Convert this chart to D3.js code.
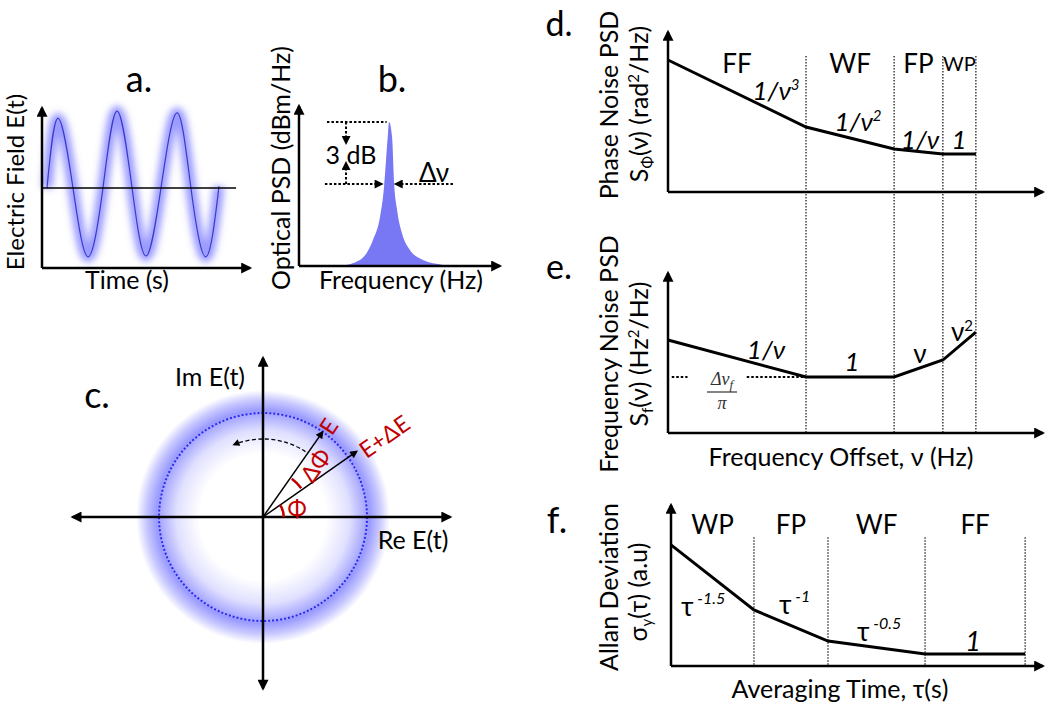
<!DOCTYPE html>
<html>
<head>
<meta charset="utf-8">
<script src="https://cdn.jsdelivr.net/npm/d3@7"></script>
<style>
  html, body { margin: 0; padding: 0; background: #fff; }
  svg { display: block; font-family: Lato, "Open Sans", sans-serif; }
</style>
</head>
<body>
<svg id="fig" width="1045" height="709"></svg>
<script>
// ---------------- data ----------------
// (a) sampled optical field: zero crossings and extrema
const waveTime  = [2.4, 7.7, 14.9, 22.1, 29.3, 36.1, 43.3, 50.0, 57.2, 64.9, 71.6, 78.8, 85.1];
const waveField = [0, 87, 0, -86, 0, 96, 0, -85, 0, 94, 0, -86, 2];

// (b) optical line shape
const specFreq  = [20.4, 30.3, 36.8, 40.3, 42.3, 43.3, 44.3, 44.8, 46.3, 47.3, 48.8, 51.2, 55.2, 61.7, 71.6, 73.6];
const specPower = [0, 3.75, 16.25, 30.6, 49.4, 66.25, 83.1, 90, 80.6, 51.9, 35, 20.6, 10, 3.75, 0.6, 0];
const specPeak = 90;
const specHalf = 51.25;

// (c) phasor: magnitudes and angles (deg)
const phasorNames  = ["E", "E+ΔE"];
const phasorMag    = [1.0, 1.1];
const phasorAngle  = [55, 35];
const circleRadius = 1.0;

// (d)/(e) noise PSD asymptotes, shared frequency breakpoints
const noiseBreaks   = [0, 36.8, 60.3, 73.3, 82.1];
const phaseRegions  = ["FF", "WF", "FP", "WP"];
const phaseLevels   = [82.5, 40.6, 26.9, 23.75, 23.75];
const phaseSlopes   = [["1/ν", "3"], ["1/ν", "2"], ["1/ν", ""], ["1", ""]];
const freqLevels    = [58.1, 35, 35, 45.6, 63.1];
const freqSlopes    = [["1/ν", ""], ["1", ""], ["ν", ""], ["ν", "2"]];
const freqFloor     = 35;

// (f) Allan deviation asymptotes
const allanBreaks   = [0, 22.3, 42.2, 68.3, 95.2];
const allanRegions  = ["WP", "FP", "WF", "FF"];
const allanLevels   = [75.2, 34.8, 15.5, 7.5, 7.5];
const allanSlopes   = [["τ", "-1.5"], ["τ", "-1"], ["τ", "-0.5"], ["1", ""]];

// ---------------- setup ----------------
const svg = d3.select("#fig");
const defs = svg.append("defs");
const RED = "#c00000";
const LABEL = 25;

function marker(id, len, wid, color) {
  defs.append("marker").attr("id", id)
    .attr("viewBox", "0 0 10 10").attr("refX", 8).attr("refY", 5)
    .attr("markerUnits", "userSpaceOnUse")
    .attr("markerWidth", len).attr("markerHeight", wid)
    .attr("orient", "auto-start-reverse")
    .append("path").attr("d", "M0,0L10,5L0,10z").attr("fill", color);
}
marker("axArrow", 13, 11, "#000");
marker("vecArrow", 11, 8, "#000");
marker("smArrow", 10, 9, "#000");
marker("dashArrow", 9, 7, "#000");

const glow = defs.append("filter").attr("id", "glow")
  .attr("x", "-20%").attr("y", "-20%").attr("width", "140%").attr("height", "140%");
glow.append("feGaussianBlur").attr("stdDeviation", 3.6);

function line(g, x1, y1, x2, y2, opts = {}) {
  const l = g.append("line").attr("x1", x1).attr("y1", y1).attr("x2", x2).attr("y2", y2)
    .attr("stroke", opts.color || "#000").attr("stroke-width", opts.width || 2.5);
  if (opts.dash) l.attr("stroke-dasharray", opts.dash);
  if (opts.end) l.attr("marker-end", `url(#${opts.end})`);
  if (opts.start) l.attr("marker-start", `url(#${opts.start})`);
  return l;
}

// text with optional sub/superscript parts
function text(g, x, y, base, opts = {}) {
  const t = g.append("text").attr("x", x).attr("y", y)
    .attr("text-anchor", opts.anchor || "middle")
    .attr("font-size", opts.size || LABEL)
    .attr("fill", opts.color || "#000");
  if (opts.italic) t.attr("font-style", "italic");
  if (opts.family) t.attr("font-family", opts.family);
  if (opts.central) t.attr("dominant-baseline", "central");
  if (opts.rotate) t.attr("transform", `rotate(${opts.rotate},${x},${y})`);
  const parts = Array.isArray(base) ? base : [base];
  parts.forEach(p => {
    if (typeof p === "string") { t.append("tspan").text(p); return; }
    const s = t.append("tspan").text(p.t);
    if (p.sup) s.attr("dy", p.sup).attr("font-size", p.size);
    if (p.italic) s.attr("font-style", "italic");
    if (p.reset) s.attr("dy", p.reset);
  });
  return t;
}

// ---------------- (a) electric field ----------------
{
  const g = svg.append("g");
  const x = d3.scaleLinear().domain([0, 100]).range([42, 250]);
  const y = d3.scaleLinear().domain([-100, 100]).range([268, 108]);
  const pts = waveTime.map((t, i) => [x(t), y(waveField[i])]);
  const path = d3.line().curve(d3.curveNatural)(pts);
  g.append("path").attr("d", path).attr("fill", "none")
    .attr("stroke", "#7070ff").attr("stroke-width", 11).attr("stroke-opacity", 0.7)
    .attr("filter", "url(#glow)");
  g.append("path").attr("d", path).attr("fill", "none")
    .attr("stroke", "#3a3acc").attr("stroke-width", 1.2);
  line(g, x(0), y(0), x(93.3), y(0), { width: 1.6 });
  line(g, x(0), y(-100), x(0), y(100), { end: "axArrow" });
  line(g, x(0), y(-100), x(100), y(-100), { end: "axArrow" });
  text(g, 139, 92, "a.", { size: 36 });
  text(g, 127, 289, "Time (s)");
  text(g, 24, 182, "Electric Field E(t)", { size: 24, rotate: -90 });
}

// ---------------- (b) optical PSD ----------------
{
  const g = svg.append("g");
  const x = d3.scaleLinear().domain([0, 100]).range([299, 500]);
  const y = d3.scaleLinear().domain([0, 100]).range([266, 106]);
  const area = d3.area().curve(d3.curveMonotoneX)
    .x((d, i) => x(specFreq[i])).y0(y(0)).y1(d => y(d));
  g.append("path").attr("d", area(specPower)).attr("fill", "#7878f4");
  line(g, x(0), y(0), x(0), y(100), { end: "axArrow" });
  line(g, x(0), y(0), x(100), y(0), { end: "axArrow" });

  const dot = "2.5,2";
  line(g, x(13.9), y(specPeak), x(43.6), y(specPeak), { width: 2, dash: dot });
  line(g, x(12.9), y(specHalf), x(41.2), y(specHalf), { width: 2, dash: dot, end: "smArrow" });
  line(g, x(76.6), y(specHalf), x(48.0), y(specHalf), { width: 2, dash: dot, end: "smArrow" });
  line(g, x(23.4), y(specPeak), x(23.4), y(76.8), { width: 2, dash: dot, end: "smArrow" });
  line(g, x(23.4), y(specHalf), x(23.4), y(64.5), { width: 2, dash: dot, end: "smArrow" });

  text(g, 351, 164, "3 dB");
  text(g, 434, 182, "Δν", { size: 26 });
  text(g, 392, 92, "b.", { size: 36 });
  text(g, 401, 289, "Frequency (Hz)");
  text(g, 290, 168, "Optical PSD (dBm/Hz)", { rotate: -90 });
}

// ---------------- (c) phasor diagram ----------------
{
  const g = svg.append("g");
  const cx = 263, cy = 517, R = 104;
  const x = d3.scaleLinear().domain([-1, 1]).range([cx - R, cx + R]);
  const y = d3.scaleLinear().domain([-1, 1]).range([cy + R, cy - R]);
  const rad = d => d * Math.PI / 180;

  const grad = defs.append("radialGradient").attr("id", "ringGlow");
  [[0, 0], [0.5, 0], [0.68, 0.22], [0.84, 0.72], [0.92, 0.4], [1, 0]].forEach(([o, a]) =>
    grad.append("stop").attr("offset", o).attr("stop-color", "#7474ff").attr("stop-opacity", a));
  g.append("circle").attr("cx", x(0)).attr("cy", y(0)).attr("r", (x(1.22) - x(0)))
    .attr("fill", "url(#ringGlow)");
  g.append("circle").attr("cx", x(0)).attr("cy", y(0)).attr("r", x(circleRadius) - x(0))
    .attr("fill", "none").attr("stroke", "#2a2af0").attr("stroke-width", 2)
    .attr("stroke-dasharray", "2,2");

  line(g, x(-1.83), y(0), x(1.8), y(0), { start: "axArrow", end: "axArrow" });
  line(g, x(0), y(1.53), x(0), y(-1.65), { start: "axArrow", end: "axArrow" });

  phasorMag.forEach((m, i) => {
    const a = rad(phasorAngle[i]);
    line(g, x(0), y(0), x(m * Math.cos(a)), y(m * Math.sin(a)), { width: 1.5, end: "vecArrow" });
  });

  // rotation arc, phase arcs
  const arc = (r, a0, a1) => { const p = d3.path(); p.arc(x(0), y(0), r * R, -rad(a0), -rad(a1), true); return p.toString(); };
  g.append("path").attr("d", arc(0.75, 57, 112)).attr("fill", "none")
    .attr("stroke", "#000").attr("stroke-width", 1.3).attr("stroke-dasharray", "4,2.5")
    .attr("marker-end", "url(#dashArrow)");
  g.append("path").attr("d", arc(0.2, 0, phasorAngle[1])).attr("fill", "none")
    .attr("stroke", RED).attr("stroke-width", 2.5);
  g.append("path").attr("d", arc(0.46, phasorAngle[1] + 2, phasorAngle[0] - 2)).attr("fill", "none")
    .attr("stroke", RED).attr("stroke-width", 2.5);

  text(g, 328, 426, phasorNames[0], { size: 23, color: RED, rotate: -57, central: true });
  text(g, 384, 436, phasorNames[1], { size: 23, color: RED, rotate: -35, central: true });
  text(g, 315, 465, "ΔΦ", { size: 23, color: RED, rotate: -55, central: true });
  text(g, 297, 508, "Φ", { size: 23, color: RED, central: true });

  text(g, 210, 386, "Im E(t)");
  text(g, 413, 549, "Re E(t)");
  text(g, 97, 408, "c.", { size: 36 });
}

// ---------------- (d) phase noise PSD / (e) frequency noise PSD ----------------
const xD = d3.scaleLinear().domain([0, 100]).range([668, 1043]);
const yD = d3.scaleLinear().domain([0, 100]).range([192, 32]);
const yE = d3.scaleLinear().domain([0, 100]).range([433, 273]);
{
  const g = svg.append("g");
  // region separators through both panels
  noiseBreaks.slice(1).forEach(b =>
    line(g, xD(b), yD(85), xD(b), yE(0), { width: 1.4, color: "#333", dash: "1.5,1.5" }));

  const seg = d3.line().x((d, i) => xD(noiseBreaks[i])).y(d => d);
  g.append("path").attr("d", seg(phaseLevels.map(v => yD(v)))).attr("fill", "none")
    .attr("stroke", "#000").attr("stroke-width", 3);
  g.append("path").attr("d", seg(freqLevels.map(v => yE(v)))).attr("fill", "none")
    .attr("stroke", "#000").attr("stroke-width", 3);

  line(g, xD(0), yD(0), xD(0), yD(100), { end: "axArrow" });
  line(g, xD(0), yD(0), xD(100), yD(0), { end: "axArrow" });
  line(g, xD(0), yE(0), xD(0), yE(100), { end: "axArrow" });
  line(g, xD(0), yE(0), xD(100), yE(0), { end: "axArrow" });

  // region names
  phaseRegions.forEach((r, i) => {
    const cx = (xD(noiseBreaks[i]) + xD(noiseBreaks[i + 1])) / 2;
    text(g, cx, r === "WP" ? 71 : 73, r, { size: r === "WP" ? 20 : 26 });
  });

  // slope annotations
  const phasePos = [[776, 100], [858, 131], [920, 149], [959, 149]];
  phaseSlopes.forEach(([b, s], i) => {
    const parts = [b];
    if (s) parts.push({ t: s, sup: -10, size: 15 });
    text(g, phasePos[i][0], phasePos[i][1], parts, { size: 26, italic: true });
  });
  const freqPos = [[766, 359], [852, 371], [920, 363], [962, 341]];
  freqSlopes.forEach(([b, s], i) => {
    const parts = [b];
    if (s) parts.push({ t: s, sup: -10, size: 15 });
    text(g, freqPos[i][0], freqPos[i][1], parts, { size: 26, italic: i < 2 });
  });

  // linewidth floor
  line(g, xD(1), yE(freqFloor), xD(5.2), yE(freqFloor), { width: 2, dash: "2.5,2" });
  line(g, xD(21), yE(freqFloor), xD(noiseBreaks[1]), yE(freqFloor), { width: 2, dash: "2.5,2" });
  const serif = "'Liberation Serif', 'DejaVu Serif', serif";
  const num = g.append("text").attr("x", 722).attr("y", 385).attr("text-anchor", "middle")
    .attr("font-family", serif).attr("font-style", "italic").attr("font-size", 18).attr("fill", "#333");
  num.append("tspan").text("Δν");
  num.append("tspan").attr("dy", 4).attr("font-size", 13).text("f");
  line(g, 707, 392, 737, 392, { width: 1.2, color: "#333" });
  text(g, 722, 409, "π", { size: 18, italic: true, family: serif, color: "#333" });

  // titles
  text(g, 559, 36, "d.", { size: 34 });
  text(g, 559, 279, "e.", { size: 34 });
  text(g, 618, 105, "Phase Noise PSD", { rotate: -90 });
  text(g, 648, 104, ["S", { t: "Φ", sup: 5, size: 15 }, { t: "(ν) (rad", reset: -5 }, { t: "2", sup: -9, size: 15 }, { t: "/Hz)", reset: 9 }], { rotate: -90 });
  text(g, 618, 354, "Frequency Noise PSD", { rotate: -90 });
  text(g, 648, 354, ["S", { t: "f", sup: 5, size: 15 }, { t: "(ν) (Hz", reset: -5 }, { t: "2", sup: -9, size: 15 }, { t: "/Hz)", reset: 9 }], { rotate: -90 });
  text(g, 841, 466, "Frequency Offset, ν (Hz)");
}

// ---------------- (f) Allan deviation ----------------
{
  const g = svg.append("g");
  const x = d3.scaleLinear().domain([0, 100]).range([671, 1043]);
  const y = d3.scaleLinear().domain([0, 100]).range([666, 505]);
  allanBreaks.slice(1).forEach(b =>
    line(g, x(b), y(80), x(b), y(0), { width: 1.4, color: "#333", dash: "1.5,1.5" }));
  const seg = d3.line().x((d, i) => x(allanBreaks[i])).y(d => y(d));
  g.append("path").attr("d", seg(allanLevels)).attr("fill", "none")
    .attr("stroke", "#000").attr("stroke-width", 3);
  line(g, x(0), y(0), x(0), y(100), { end: "axArrow" });
  line(g, x(0), y(0), x(100), y(0), { end: "axArrow" });

  allanRegions.forEach((r, i) => {
    const cx = (x(allanBreaks[i]) + x(allanBreaks[i + 1])) / 2;
    text(g, cx, 534, r, { size: 26 });
  });
  const pos = [[681, 616], [779, 614], [857, 641], [973, 651]];
  allanSlopes.forEach(([b, s], i) => {
    if (s) {
      text(g, pos[i][0], pos[i][1], [b, { t: " " + s, sup: -12, size: 16, italic: true }], { size: 27, anchor: "start" });
    } else {
      text(g, pos[i][0], pos[i][1], b, { size: 27, italic: true });
    }
  });

  text(g, 557, 533, "f.", { size: 36 });
  text(g, 618, 587, "Allan Deviation", { rotate: -90 });
  text(g, 647, 592, ["σ", { t: "y", sup: 5, size: 15 }, { t: "(τ) (a.u)", reset: -5 }], { rotate: -90 });
  text(g, 840, 698, "Averaging Time, τ(s)");
}
</script>
</body>
</html>
